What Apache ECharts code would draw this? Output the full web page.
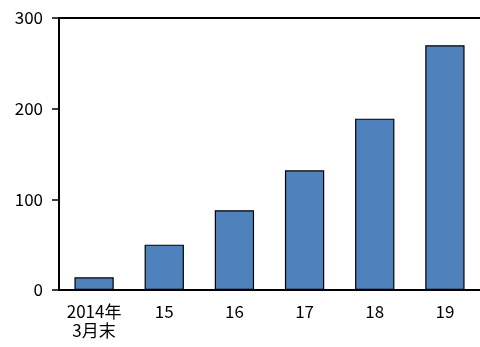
<!DOCTYPE html>
<html>
<head>
<meta charset="utf-8">
<script src="https://cdn.jsdelivr.net/npm/echarts@6/dist/echarts.min.js"></script>
<style>
html,body{margin:0;padding:0;background:#fff;}
#c{width:480px;height:347px;}
</style>
</head>
<body>
<div id="c"></div>
<script>
const categories = ['2014年\n3月末', '15', '16', '17', '18', '19'];
const values = [14, 50, 88, 132, 189, 270];
const yTicks = [0, 100, 200, 300];

const FONT = '"Noto Sans CJK JP", sans-serif';
const chart = echarts.init(document.getElementById('c'), null, {renderer: 'canvas'});
chart.setOption({
  animation: false,
  backgroundColor: '#fff',
  grid: {left: 59, right: -3, top: 18, bottom: 57, containLabel: false},
  xAxis: [{
    type: 'category',
    data: categories,
    position: 'bottom',
    axisLine: {show: true, lineStyle: {color: '#000', width: 2}},
    axisTick: {show: false},
    axisLabel: {color: '#000', fontSize: 17, fontFamily: FONT, margin: 12, lineHeight: 19, interval: 0}
  }, {
    type: 'category',
    data: categories,
    position: 'top',
    axisLine: {show: true, lineStyle: {color: '#000', width: 2}},
    axisTick: {show: false},
    axisLabel: {show: false}
  }],
  yAxis: {
    type: 'value',
    min: yTicks[0],
    max: yTicks[yTicks.length - 1],
    interval: 100,
    axisLine: {show: true, lineStyle: {color: '#000', width: 2}},
    axisTick: {show: true, inside: false, length: 7, lineStyle: {color: '#000', width: 1.5}},
    splitLine: {show: false},
    axisLabel: {color: '#000', fontSize: 17, fontFamily: FONT, margin: 16}
  },
  series: [{
    type: 'bar',
    data: values,
    xAxisIndex: 0,
    barWidth: '56%',
    itemStyle: {color: '#4F81BD', borderColor: '#000', borderWidth: 1.2}
  }]
});
</script>
</body>
</html>
